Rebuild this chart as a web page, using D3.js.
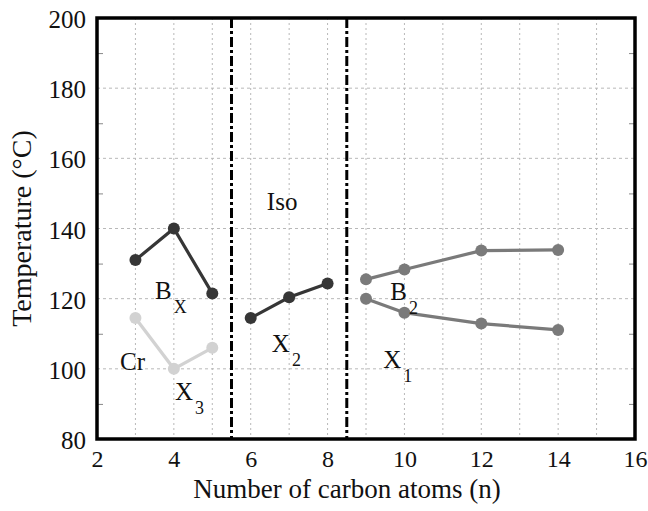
<!DOCTYPE html>
<html>
<head>
<meta charset="utf-8">
<script src="https://cdn.jsdelivr.net/npm/d3@7/dist/d3.min.js"></script>
<style>
  html, body { margin: 0; padding: 0; background: #fff; }
  svg { display: block; }
  svg text { font-family: "Liberation Serif", "Times New Roman", Times, "DejaVu Serif", serif !important; fill: #111; }
</style>
</head>
<body>
<svg id="chart" width="648" height="511"></svg>
<script>
// ---- data ----
const xTicks = [2, 4, 6, 8, 10, 12, 14, 16];
const yTicks = [80, 100, 120, 140, 160, 180, 200];
const yMinorTicks = [90, 110, 130, 150, 170, 190];
const xGrid = [3, 4, 5, 6, 7, 8, 9, 10, 11, 12, 13, 14, 15];
const yGrid = [100, 120, 140, 160, 180];
const phaseBounds = [5.5, 8.5];

const bxN = [3, 4, 5];        const bxT = [131, 140, 121.5];
const crN = [3, 4, 5];        const crT = [114.5, 100, 106];
const x2N = [6, 7, 8];        const x2T = [114.5, 120.4, 124.3];
const b2N = [9, 10, 12, 14];  const b2T = [125.5, 128.3, 133.7, 133.9];
const x1N = [9, 10, 12, 14];  const x1T = [120, 116, 112.9, 111.1];

const xLabel = "Number of carbon atoms (n)";
const yLabel = "Temperature (\u00B0C)";

// phase labels: main text, subscript, anchor in data units
const phaseLabels = [
  { main: "Iso", sub: "",  n: 6.42, t: 145.3 },
  { main: "B",   sub: "X", n: 3.51, t: 119.9 },
  { main: "Cr",  sub: "",  n: 2.60, t: 99.7 },
  { main: "X",   sub: "3", n: 4.03, t: 91.1 },
  { main: "X",   sub: "2", n: 6.55, t: 104.8 },
  { main: "B",   sub: "2", n: 9.63, t: 119.6 },
  { main: "X",   sub: "1", n: 9.45, t: 100.2 }
];

// ---- layout ----
const FONT = "'Liberation Serif', 'Times New Roman', Times, 'DejaVu Serif', serif";
const svg = d3.select("#chart");
const L = 97, R = 635, T = 18, B = 439;
const x = d3.scaleLinear().domain([2, 16]).range([L, R]);
const y = d3.scaleLinear().domain([80, 200]).range([B, T]);

// grid
const g = svg.append("g");
g.selectAll("line.vg").data(xGrid).join("line")
  .attr("x1", d => x(d)).attr("x2", d => x(d))
  .attr("y1", T).attr("y2", B)
  .attr("stroke", "#b8b8b8").attr("stroke-width", 1).attr("stroke-dasharray", "2,3");
g.selectAll("line.hg").data(yGrid).join("line")
  .attr("x1", L).attr("x2", R)
  .attr("y1", d => y(d)).attr("y2", d => y(d))
  .attr("stroke", "#b8b8b8").attr("stroke-width", 1).attr("stroke-dasharray", "3,3");

// minor ticks inward on left and right
const minorL = d3.axisRight(y).tickValues(yMinorTicks).tickSize(6).tickFormat("");
const minorR = d3.axisLeft(y).tickValues(yMinorTicks).tickSize(6).tickFormat("");
svg.append("g").attr("transform", `translate(${L},0)`).call(minorL)
  .call(s => s.select(".domain").remove())
  .selectAll("line").attr("stroke", "#888");
svg.append("g").attr("transform", `translate(${R},0)`).call(minorR)
  .call(s => s.select(".domain").remove())
  .selectAll("line").attr("stroke", "#888");

// phase boundaries (dash-dot)
svg.selectAll("line.pb").data(phaseBounds).join("line")
  .attr("x1", d => x(d)).attr("x2", d => x(d))
  .attr("y1", T).attr("y2", B)
  .attr("stroke", "#000").attr("stroke-width", 3)
  .attr("stroke-dasharray", "10,3,3,3");

// series
const series = [
  { n: crN, t: crT, color: "#d2d2d2" },
  { n: bxN, t: bxT, color: "#363636" },
  { n: x2N, t: x2T, color: "#363636" },
  { n: b2N, t: b2T, color: "#7a7a7a" },
  { n: x1N, t: x1T, color: "#7a7a7a" }
];
const line = d3.line().x(d => x(d[0])).y(d => y(d[1]));
series.forEach(s => {
  const pts = s.n.map((v, i) => [v, s.t[i]]);
  svg.append("path").datum(pts)
    .attr("d", line).attr("fill", "none")
    .attr("stroke", s.color).attr("stroke-width", 3.2);
  svg.append("g").selectAll("circle").data(pts).join("circle")
    .attr("cx", d => x(d[0])).attr("cy", d => y(d[1])).attr("r", 6)
    .attr("fill", s.color);
});

// frame
svg.append("rect").attr("x", L).attr("y", T)
  .attr("width", R - L).attr("height", B - T)
  .attr("fill", "none").attr("stroke", "#000").attr("stroke-width", 3.5);

// axes labels via d3 axes
const yAxis = d3.axisLeft(y).tickValues(yTicks).tickSize(0).tickPadding(11).tickFormat(d3.format("d"));
svg.append("g").attr("transform", `translate(${L},0)`).call(yAxis)
  .attr("font-family", FONT).attr("font-size", 25)
  .call(s => s.select(".domain").remove())
  .selectAll("text")
  .attr("fill", "#111").attr("dy", "0.38em");

const xAxis = d3.axisBottom(x).tickValues(xTicks).tickSize(0).tickPadding(11).tickFormat(d3.format("d"));
svg.append("g").attr("transform", `translate(0,${B})`).call(xAxis)
  .attr("font-family", FONT).attr("font-size", 24)
  .call(s => s.select(".domain").remove())
  .selectAll("text")
  .attr("fill", "#111");

// axis titles
svg.append("text").attr("x", 347).attr("y", 498)
  .attr("font-family", FONT)
  .attr("text-anchor", "middle").attr("font-size", 27).text(xLabel);
svg.append("text")
  .attr("font-family", FONT)
  .attr("transform", `translate(31,${(T + B) / 2}) rotate(-90)`)
  .attr("text-anchor", "middle").attr("font-size", 28).text(yLabel);

// phase labels
phaseLabels.forEach(p => {
  const t = svg.append("text").attr("x", x(p.n)).attr("y", y(p.t))
    .attr("font-family", FONT).attr("font-size", 25);
  t.append("tspan").text(p.main);
  if (p.sub) {
    t.append("tspan").attr("dx", 2).attr("dy", 14).attr("font-size", 18).text(p.sub);
  }
});
</script>
</body>
</html>
